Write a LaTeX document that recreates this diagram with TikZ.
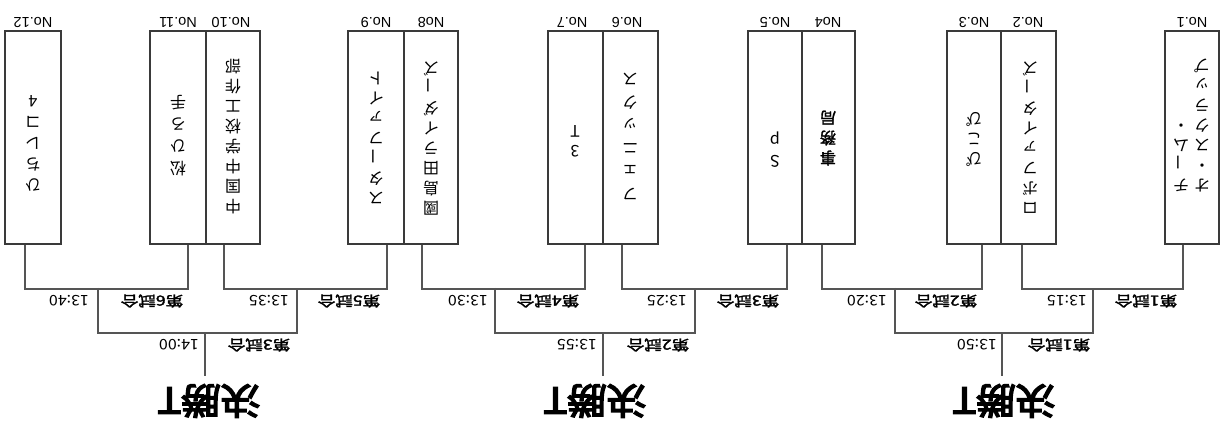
\documentclass[tikz,border=0pt]{standalone}
\usepackage{fontspec}
\setmainfont{Liberation Sans}
\newfontfamily\jp[AutoFakeBold=2]{Noto Sans CJK JP}
\newfontfamily\jpk[AutoFakeBold=4]{Noto Sans CJK JP}
\newcommand\chon{\rotatebox[origin=c]{-90}{ー}}
\definecolor{boxc}{HTML}{3A3A3A}
\definecolor{linec}{HTML}{555555}
\begin{document}
\begin{tikzpicture}[x=1pt,y=-1pt,
  teambox/.style={draw=boxc, line width=1.7pt, minimum width=#1, minimum height=213pt, inner sep=0pt},
  conn/.style={draw=linec, line width=2.4pt},
  vtext/.style={rotate=180, font=\jp\fontsize{16}{20}\selectfont, align=center, inner sep=0pt},
  nolabel/.style={rotate=180, font=\fontsize{14.5}{15}\selectfont, inner sep=0pt},
  match/.style={rotate=180, font=\jp\bfseries\fontsize{14}{14}\selectfont, xscale=1.25, inner sep=0pt},
  time/.style={rotate=180, font=\jp\fontsize{14.5}{14}\selectfont, xscale=1.1, inner sep=0pt},
  title/.style={rotate=180, font=\jpk\bfseries\fontsize{36}{36}\selectfont, xscale=1.1, inner sep=0pt},
]
\useasboundingbox[fill=white] (0,0) rectangle (1221,427);
% team boxes
\node[teambox=56pt] (t12) at (33,137.5) {};
\node[teambox=56pt] (t11) at (178,137.5) {};
\node[teambox=54pt] (t10) at (233,137.5) {};
\node[teambox=56pt] (t9) at (376,137.5) {};
\node[teambox=54pt] (t8) at (431,137.5) {};
\node[teambox=55pt] (t7) at (575.5,137.5) {};
\node[teambox=55pt] (t6) at (630.5,137.5) {};
\node[teambox=54pt] (t5) at (775,137.5) {};
\node[teambox=53pt] (t4) at (828.5,137.5) {};
\node[teambox=54pt] (t3) at (974,137.5) {};
\node[teambox=55pt] (t2) at (1028.5,137.5) {};
\node[teambox=54pt] (t1) at (1192,137.5) {};
% numbers
\node[nolabel] (n12) at (33,22) {No.12};
\node[nolabel] (n11) at (178,22) {No.11};
\node[nolabel] (n10) at (231,22) {No.10};
\node[nolabel] (n9) at (376,22) {No.9};
\node[nolabel] (n8) at (431,22) {No8};
\node[nolabel] (n7) at (572,22) {No.7};
\node[nolabel] (n6) at (627,22) {No.6};
\node[nolabel] (n5) at (775,22) {No.5};
\node[nolabel] (n4) at (828,22) {No4};
\node[nolabel] (n3) at (974,22) {No.3};
\node[nolabel] (n2) at (1028,22) {No.2};
\node[nolabel] (n1) at (1192,22) {No.1};
% team names
\node[vtext, anchor=north] (x1a) at (1181,192) {チ\\\chon\\ム\\・};
\node[vtext, anchor=north] (x1b) at (1202,192) {オ\\・\\ス\\ク\\ラ\\ッ\\プ};
\node[vtext] (x2) at (1030,138) {ロ\\ボ\\フ\\ァ\\イ\\タ\\\chon\\ズ};
\node[vtext] (x3) at (974,140) {ぴ\\こ\\ぴ};
\node[vtext, font=\jp\bfseries\fontsize{16}{20}\selectfont] (x4) at (828,138) {事\\務\\局};
\node[vtext] (x5) at (775,150) {S\\p};
\node[vtext, font=\jp\fontsize{16}{23}\selectfont] (x6) at (630,136) {フ\\ェ\\ニ\\ッ\\ク\\ス};
\node[vtext] (x7) at (575,141) {3\\T};
\node[vtext] (x8) at (431,138) {國\\島\\田\\ラ\\イ\\ダ\\\chon\\ズ};
\node[vtext] (x9) at (376,138) {ス\\タ\\\chon\\フ\\ァ\\イ\\ト};
\node[vtext] (x10) at (233,137) {中\\国\\中\\学\\校\\工\\作\\部};
\node[vtext, font=\jp\fontsize{16}{22}\selectfont] (x11) at (178,136) {松\\ひ\\ろ\\手};
\node[vtext, font=\jp\fontsize{16}{21}\selectfont] (x12) at (33,143) {ひ\\ち\\レ\\コ\\4};
% first round connectors
\draw[conn] ([xshift=-8pt]t12.south) -- ++(0,44) -| ([xshift=10pt]t11.south);
\draw[conn] ([xshift=-9pt]t10.south) -- ++(0,44) -| ([xshift=11pt]t9.south);
\draw[conn] ([xshift=-9pt]t8.south) -- ++(0,44) -| ([xshift=9.5pt]t7.south);
\draw[conn] ([xshift=-8.5pt]t6.south) -- ++(0,44) -| ([xshift=12pt]t5.south);
\draw[conn] ([xshift=-6.5pt]t4.south) -- ++(0,44) -| ([xshift=8pt]t3.south);
\draw[conn] ([xshift=-6.5pt]t2.south) -- ++(0,44) -| ([xshift=-9pt]t1.south);
% match points
\coordinate (g6) at (98,288);
\coordinate (g5) at (297,288);
\coordinate (g4) at (495,288);
\coordinate (g3) at (695,288);
\coordinate (g2) at (895,288);
\coordinate (g1) at (1093,288);
\coordinate (fa) at (205,333);
\coordinate (fb) at (603,333);
\coordinate (fc) at (1002,333);
\coordinate (ea) at (205,376);
\coordinate (eb) at (603,376);
\coordinate (ec) at (1002,376);
\draw[conn] (g6) -- ++(0,45) -| (g5);
\draw[conn] (g4) -- ++(0,45) -| (g3);
\draw[conn] (g2) -- ++(0,45) -| (g1);
\draw[conn] (fa) -- (ea);
\draw[conn] (fb) -- (eb);
\draw[conn] (fc) -- (ec);
% match labels
\node[time] (l1) at (69,301) {13:40};
\node[match] (l2) at (152,301) {第6試合};
\node[time] (l3) at (269,301) {13:35};
\node[match] (l4) at (349,301) {第5試合};
\node[time] (l5) at (179,345) {14:00};
\node[match] (l6) at (259,345) {第3試合};
\node[time] (l7) at (468,301) {13:30};
\node[match] (l8) at (548,301) {第4試合};
\node[time] (l9) at (667,301) {13:25};
\node[match] (l10) at (748,301) {第3試合};
\node[time] (l11) at (577,345) {13:55};
\node[match] (l12) at (658,345) {第2試合};
\node[time] (l13) at (867,301) {13:20};
\node[match] (l14) at (946,301) {第2試合};
\node[time] (l15) at (1067,301) {13:15};
\node[match] (l16) at (1146,301) {第1試合};
\node[time] (l17) at (977,345) {13:50};
\node[match] (l18) at (1059,345) {第1試合};
% titles
\node[title] (k3) at (209,401) {決勝T};
\node[title] (k2) at (595,401) {決勝T};
\node[title] (k1) at (1004,401) {決勝T};
\end{tikzpicture}
\end{document}
